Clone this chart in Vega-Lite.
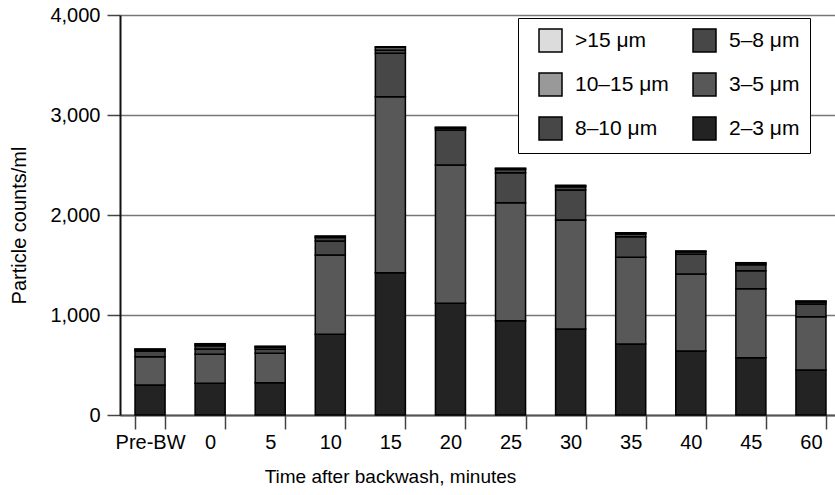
{
  "$schema": "https://vega.github.io/schema/vega-lite/v6.json",
  "width": 721,
  "height": 400,
  "autosize": {"type": "none"},
  "padding": {"left": 120, "top": 15, "right": 0, "bottom": 80},
  "config": {"view": {"stroke": null}, "font": "Liberation Sans"},
  "data": {"values": [
    {"time":"Pre-BW","size":"2–3 μm","lower":2,"count":300},
    {"time":"Pre-BW","size":"3–5 μm","lower":3,"count":283},
    {"time":"Pre-BW","size":"5–8 μm","lower":5,"count":57},
    {"time":"Pre-BW","size":"8–10 μm","lower":8,"count":12},
    {"time":"Pre-BW","size":"10–15 μm","lower":10,"count":6},
    {"time":"Pre-BW","size":">15 μm","lower":15,"count":2},
    {"time":"0","size":"2–3 μm","lower":2,"count":317},
    {"time":"0","size":"3–5 μm","lower":3,"count":290},
    {"time":"0","size":"5–8 μm","lower":5,"count":53},
    {"time":"0","size":"8–10 μm","lower":8,"count":33},
    {"time":"0","size":"10–15 μm","lower":10,"count":15},
    {"time":"0","size":">15 μm","lower":15,"count":5},
    {"time":"5","size":"2–3 μm","lower":2,"count":323},
    {"time":"5","size":"3–5 μm","lower":3,"count":294},
    {"time":"5","size":"5–8 μm","lower":5,"count":40},
    {"time":"5","size":"8–10 μm","lower":8,"count":20},
    {"time":"5","size":"10–15 μm","lower":10,"count":8},
    {"time":"5","size":">15 μm","lower":15,"count":2},
    {"time":"10","size":"2–3 μm","lower":2,"count":807},
    {"time":"10","size":"3–5 μm","lower":3,"count":793},
    {"time":"10","size":"5–8 μm","lower":5,"count":140},
    {"time":"10","size":"8–10 μm","lower":8,"count":35},
    {"time":"10","size":"10–15 μm","lower":10,"count":10},
    {"time":"10","size":">15 μm","lower":15,"count":5},
    {"time":"15","size":"2–3 μm","lower":2,"count":1423},
    {"time":"15","size":"3–5 μm","lower":3,"count":1760},
    {"time":"15","size":"5–8 μm","lower":5,"count":434},
    {"time":"15","size":"8–10 μm","lower":8,"count":33},
    {"time":"15","size":"10–15 μm","lower":10,"count":25},
    {"time":"15","size":">15 μm","lower":15,"count":8},
    {"time":"20","size":"2–3 μm","lower":2,"count":1117},
    {"time":"20","size":"3–5 μm","lower":3,"count":1383},
    {"time":"20","size":"5–8 μm","lower":5,"count":350},
    {"time":"20","size":"8–10 μm","lower":8,"count":17},
    {"time":"20","size":"10–15 μm","lower":10,"count":7},
    {"time":"20","size":">15 μm","lower":15,"count":3},
    {"time":"25","size":"2–3 μm","lower":2,"count":943},
    {"time":"25","size":"3–5 μm","lower":3,"count":1180},
    {"time":"25","size":"5–8 μm","lower":5,"count":300},
    {"time":"25","size":"8–10 μm","lower":8,"count":32},
    {"time":"25","size":"10–15 μm","lower":10,"count":9},
    {"time":"25","size":">15 μm","lower":15,"count":3},
    {"time":"30","size":"2–3 μm","lower":2,"count":860},
    {"time":"30","size":"3–5 μm","lower":3,"count":1090},
    {"time":"30","size":"5–8 μm","lower":5,"count":300},
    {"time":"30","size":"8–10 μm","lower":8,"count":32},
    {"time":"30","size":"10–15 μm","lower":10,"count":10},
    {"time":"30","size":">15 μm","lower":15,"count":5},
    {"time":"35","size":"2–3 μm","lower":2,"count":710},
    {"time":"35","size":"3–5 μm","lower":3,"count":867},
    {"time":"35","size":"5–8 μm","lower":5,"count":206},
    {"time":"35","size":"8–10 μm","lower":8,"count":26},
    {"time":"35","size":"10–15 μm","lower":10,"count":10},
    {"time":"35","size":">15 μm","lower":15,"count":4},
    {"time":"40","size":"2–3 μm","lower":2,"count":640},
    {"time":"40","size":"3–5 μm","lower":3,"count":770},
    {"time":"40","size":"5–8 μm","lower":5,"count":197},
    {"time":"40","size":"8–10 μm","lower":8,"count":22},
    {"time":"40","size":"10–15 μm","lower":10,"count":8},
    {"time":"40","size":">15 μm","lower":15,"count":3},
    {"time":"45","size":"2–3 μm","lower":2,"count":573},
    {"time":"45","size":"3–5 μm","lower":3,"count":690},
    {"time":"45","size":"5–8 μm","lower":5,"count":180},
    {"time":"45","size":"8–10 μm","lower":8,"count":60},
    {"time":"45","size":"10–15 μm","lower":10,"count":15},
    {"time":"45","size":">15 μm","lower":15,"count":5},
    {"time":"60","size":"2–3 μm","lower":2,"count":450},
    {"time":"60","size":"3–5 μm","lower":3,"count":533},
    {"time":"60","size":"5–8 μm","lower":5,"count":127},
    {"time":"60","size":"8–10 μm","lower":8,"count":20},
    {"time":"60","size":"10–15 μm","lower":10,"count":7},
    {"time":"60","size":">15 μm","lower":15,"count":3}
  ]},
  "mark": {"type": "bar", "stroke": "black", "strokeWidth": 1.5},
  "encoding": {
    "x": {
      "field": "time", "type": "nominal",
      "sort": ["Pre-BW","0","5","10","15","20","25","30","35","40","45","60"],
      "scale": {"paddingInner": 0.5, "paddingOuter": 0.25},
      "axis": {
        "tickBand": "extent", "tickSize": 14, "tickColor": "#444", "tickWidth": 1.5,
        "domainColor": "#555", "domainWidth": 2,
        "labelAngle": 0, "labelFontSize": 20, "labelColor": "black", "labelPadding": 3,
        "title": "Time after backwash, minutes", "titleFontSize": 19, "titleFontWeight": "normal",
        "titleColor": "black", "titleX": 270, "titlePadding": 15, "grid": false
      }
    },
    "y": {
      "field": "count", "type": "quantitative",
      "scale": {"domain": [0, 4000]},
      "axis": {
        "values": [0, 1000, 2000, 3000, 4000], "format": ",.0f",
        "grid": true, "gridColor": "#777", "gridWidth": 1.5,
        "domainColor": "#111", "domainWidth": 2,
        "tickColor": "#444", "tickWidth": 1.5, "tickSize": 13,
        "labelFontSize": 20, "labelColor": "black", "labelPadding": 7,
        "title": "Particle counts/ml", "titleFontSize": 20, "titleFontWeight": "normal",
        "titleColor": "black", "titleY": 210, "titlePadding": 20
      }
    },
    "color": {
      "field": "size", "type": "nominal",
      "scale": {
        "domain": [">15 μm","10–15 μm","8–10 μm","5–8 μm","3–5 μm","2–3 μm"],
        "range": ["#dcdcdc","#999999","#474747","#474747","#585858","#232323"]
      },
      "legend": {
        "orient": "none", "legendX": 398, "legendY": 3, "columns": 2, "title": null,
        "symbolType": "square", "symbolSize": 529, "symbolStrokeColor": "black", "symbolStrokeWidth": 1.5,
        "symbolOpacity": 1, "symbolOffset": 10,
        "labelFontSize": 21, "labelColor": "black", "labelOffset": 12, "labelLimit": 200,
        "rowPadding": 15, "columnPadding": 13, "padding": 10,
        "strokeColor": "black", "fillColor": "white"
      }
    },
    "order": {"field": "lower", "type": "quantitative", "sort": "ascending"}
  }
}
